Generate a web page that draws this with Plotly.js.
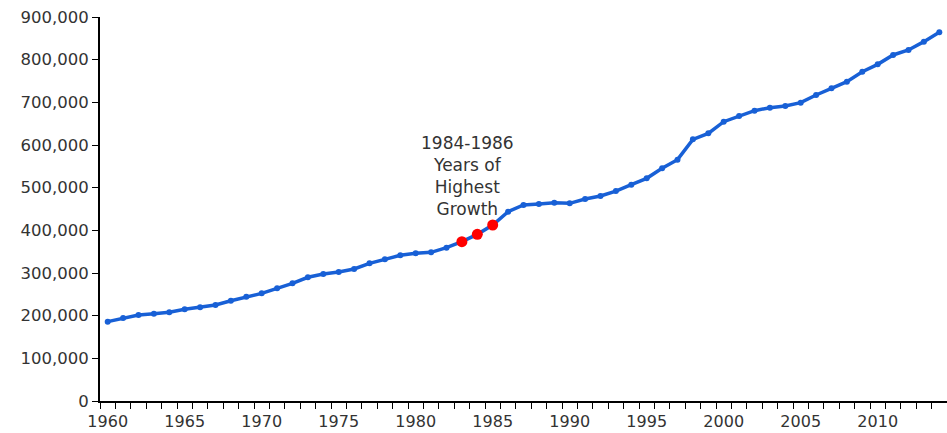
<!DOCTYPE html>
<html>
<head>
<meta charset="utf-8">
<script src="https://cdn.plot.ly/plotly-3.0.1.min.js"></script>
<style>html,body{margin:0;padding:0;background:#fff}#chart{width:947px;height:433px}</style>
</head>
<body>
<div id="chart"></div>
<script>
const years = [1960,1961,1962,1963,1964,1965,1966,1967,1968,1969,1970,1971,1972,1973,1974,1975,1976,1977,1978,1979,1980,1981,1982,1983,1984,1985,1986,1987,1988,1989,1990,1991,1992,1993,1994,1995,1996,1997,1998,1999,2000,2001,2002,2003,2004,2005,2006,2007,2008,2009,2010,2011,2012,2013,2014];
const values = [186000,194500,201500,204600,207900,214800,219500,225000,235000,244500,252300,264000,275800,290000,297700,302300,309400,322700,332000,341400,346100,348400,359300,373400,390600,412500,443700,459400,461700,464800,463300,473400,480500,492000,507000,521900,545300,565600,613300,627300,654600,668000,680400,687500,691400,699200,717200,732800,748400,771800,789000,811000,822700,842200,864100];
const highlightYears = [1983,1984,1985];
const highlightValues = highlightYears.map(y => values[years.indexOf(y)]);
const yTickVals = [0,100000,200000,300000,400000,500000,600000,700000,800000,900000];
const xTickVals = [1960,1965,1970,1975,1980,1985,1990,1995,2000,2005,2010];
const annotationText = "1984-1986<br>Years of<br>Highest<br>Growth";

const traces = [
  {x: years, y: values, type: 'scatter', mode: 'lines+markers',
   line: {color: '#1860d6', width: 3.5},
   marker: {color: '#1860d6', size: 6},
   cliponaxis: false, hoverinfo: 'x+y'},
  {x: highlightYears, y: highlightValues, type: 'scatter', mode: 'markers',
   marker: {color: '#ff0000', size: 11},
   cliponaxis: false, hoverinfo: 'x+y'}
];

const layout = {
  width: 947, height: 433,
  margin: {l: 100, r: 0, t: 17, b: 32, pad: 0},
  paper_bgcolor: '#fff', plot_bgcolor: '#fff',
  showlegend: false,
  font: {family: 'DejaVu Sans, Verdana, sans-serif', color: '#333', size: 16},
  xaxis: {
    range: [1959.5, 2014.5], tickvals: xTickVals, ticktext: xTickVals.map(String),
    ticks: 'outside', ticklen: 0.01, tickcolor: '#000', ticklabelstandoff: 5,
    showline: true, linecolor: '#000', linewidth: 2,
    showgrid: false, zeroline: false,
    tickfont: {size: 16, color: '#333'},
    minor: {ticks: 'outside', ticklen: 6, tickcolor: '#000', tickwidth: 1, tick0: 1959.5, dtick: 1, showgrid: false}
  },
  yaxis: {
    range: [0, 900000], tickvals: yTickVals, tickformat: ',d',
    ticks: 'outside', ticklen: 6, tickcolor: '#000', tickwidth: 1,
    showline: true, linecolor: '#000', linewidth: 2,
    showgrid: false, zeroline: false,
    tickfont: {size: 16.5, color: '#333'}
  },
  annotations: [{
    x: 1983.35, y: 528000, xref: 'x', yref: 'y', text: annotationText,
    showarrow: false, align: 'center', font: {size: 17, color: '#333'}
  }]
};

Plotly.newPlot('chart', traces, layout, {displayModeBar: false, staticPlot: true});
</script>
</body>
</html>
